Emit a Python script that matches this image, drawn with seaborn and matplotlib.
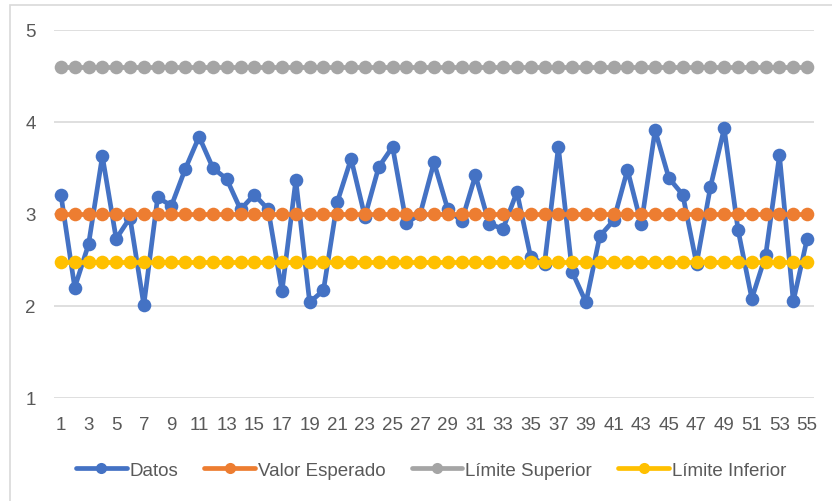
import numpy as np
import pandas as pd
import seaborn as sns
import matplotlib
matplotlib.use("Agg")
import matplotlib.pyplot as plt
from matplotlib.lines import Line2D
from matplotlib.patches import Rectangle

x_vals = list(range(1, 56))
datos = [3.21, 2.20, 2.67, 3.63, 2.73, 2.96, 2.01, 3.18, 3.09, 3.49,
         3.84, 3.50, 3.38, 3.05, 3.21, 3.05, 2.16, 3.37, 2.04, 2.17,
         3.13, 3.60, 2.97, 3.51, 3.73, 2.90, 3.00, 3.56, 3.05, 2.92,
         3.42, 2.89, 2.84, 3.24, 2.53, 2.46, 3.73, 2.37, 2.04, 2.76,
         2.93, 3.48, 2.89, 3.91, 3.39, 3.21, 2.46, 3.29, 3.93, 2.83,
         2.08, 2.55, 3.64, 2.05, 2.73]
valor_esperado = [3.0] * 55
limite_superior = [4.6] * 55
limite_inferior = [2.48] * 55

series_names = ["Datos", "Valor Esperado", "Límite Superior", "Límite Inferior"]
series_values = [datos, valor_esperado, limite_superior, limite_inferior]
colors = ["#4472C4", "#ED7D31", "#A5A5A5", "#FFC000"]
y_ticks = [1, 2, 3, 4, 5]
x_ticks = list(range(1, 56, 2))

sns.set_theme(style="white")
plt.rcParams["font.family"] = ["Liberation Sans Narrow", "Liberation Sans", "DejaVu Sans"]

LW = 3.4
MS = 9.8

fig = plt.figure(figsize=(8.32, 5.02), dpi=100)
ax = fig.add_axes([54 / 832, 1 - 399 / 502, 760 / 832, 368 / 502])

for name, vals, col in zip(series_names, series_values, colors):
    df = pd.DataFrame({"x": x_vals, "y": vals})
    sns.lineplot(data=df, x="x", y="y", ax=ax, color=col, linewidth=LW,
                 marker="o", markersize=MS, markeredgewidth=0,
                 markeredgecolor=col, label=name, legend=False)

ax.set_xlim(0.5, 55.5)
ax.set_ylim(1, 5)
ax.set_yticks(y_ticks)
ax.set_xticks(x_ticks)
ax.set_xticklabels([str(v) for v in x_ticks])
ax.set_xlabel("")
ax.set_ylabel("")
ax.grid(axis="y", color="#D9D9D9", linewidth=1.2)
ax.set_axisbelow(True)
for s in ax.spines.values():
    s.set_visible(False)
ax.tick_params(axis="both", length=0, labelsize=13.5, colors="#595959")
ax.tick_params(axis="y", pad=13)
ax.tick_params(axis="x", pad=13)

handles = [Line2D([0], [0], color=c, linewidth=LW, marker="o", markersize=8,
                  markeredgewidth=0) for c in colors]
fig.legend(handles, series_names, loc="center", bbox_to_anchor=(431 / 832, 1 - 471 / 502),
           ncol=4, frameon=False, fontsize=13.5, labelcolor="#595959",
           handlelength=2.7, handletextpad=0.15, columnspacing=1.4)

fig.patches.append(Rectangle((10 / 832, -0.1), 1.2, 1 - 6 / 502 + 0.1,
                             transform=fig.transFigure, fill=False,
                             edgecolor="#D9D9D9", linewidth=1.2))

fig.savefig("out.png", dpi=100)
